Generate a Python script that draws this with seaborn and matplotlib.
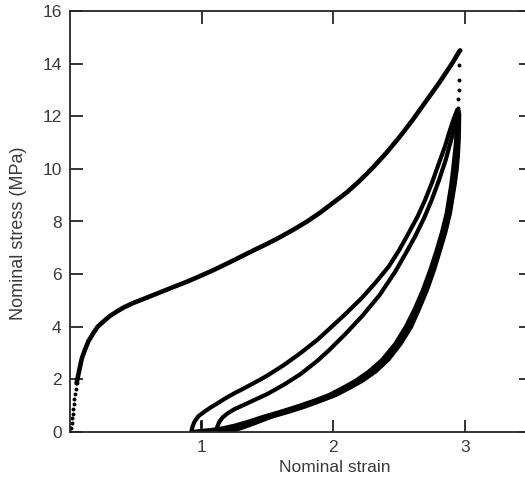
import matplotlib as mpl

mpl.use('Agg')
import pandas as pd
import matplotlib.pyplot as plt
import seaborn as sns

# first loading, solid part
load_x = [0.05, 0.055, 0.065, 0.076, 0.09, 0.113, 0.14, 0.176, 0.21, 0.252,
          0.3, 0.353, 0.41, 0.479, 0.58, 0.68, 0.78, 0.882, 0.98, 1.083,
          1.2, 1.3, 1.4, 1.5, 1.6, 1.7, 1.8, 1.9, 2.0, 2.1, 2.2, 2.3, 2.4,
          2.5, 2.6, 2.7, 2.8, 2.9, 2.96]
load_y = [1.85, 1.98, 2.22, 2.48, 2.8, 3.12, 3.45, 3.75, 4.0, 4.19,
          4.4, 4.57, 4.74, 4.9, 5.1, 5.3, 5.5, 5.7, 5.91, 6.14,
          6.42, 6.67, 6.92, 7.16, 7.42, 7.7, 8.0, 8.34, 8.72, 9.1, 9.55,
          10.05, 10.6, 11.2, 11.85, 12.55, 13.25, 14.0, 14.5]

# sparse points at the very start of loading
toe_x = [0.0, 0.007, 0.013, 0.017, 0.021, 0.024, 0.027, 0.031, 0.037, 0.043, 0.05]
toe_y = [0.0, 0.17, 0.34, 0.52, 0.7, 0.88, 1.06, 1.25, 1.45, 1.65, 1.85]

# sparse points where the stress drops at max strain
drop_x = [2.96, 2.955, 2.953, 2.95, 2.948, 2.945, 2.943, 2.94]
drop_y = [14.52, 13.95, 13.38, 13.0, 12.65, 12.32, 12.13, 11.98]

# unloading paths
unload1_x = [2.94, 2.937, 2.93, 2.92, 2.908, 2.895, 2.86, 2.825, 2.785, 2.735,
             2.68, 2.62, 2.55, 2.47, 2.37, 2.27, 2.17, 2.07, 1.97, 1.85,
             1.72, 1.6, 1.47, 1.36, 1.25, 1.16, 1.08, 1.0, 0.93]
unload1_y = [11.98, 11.5, 11.0, 10.5, 9.95, 9.4, 8.32, 7.6, 6.92, 6.15,
             5.4, 4.7, 4.0, 3.35, 2.74, 2.3, 1.95, 1.67, 1.41, 1.18,
             0.96, 0.77, 0.58, 0.4, 0.24, 0.14, 0.08, 0.04, 0.0]
unload2_x = [2.95, 2.949, 2.946, 2.94, 2.93, 2.915, 2.88, 2.845, 2.805, 2.758,
             2.705, 2.645, 2.58, 2.5, 2.405, 2.31, 2.21, 2.11, 2.01, 1.89,
             1.76, 1.64, 1.51, 1.39, 1.26, 1.19, 1.14, 1.11]
unload2_y = [12.2, 11.5, 11.0, 10.5, 9.95, 9.4, 8.32, 7.6, 6.92, 6.15,
             5.4, 4.7, 4.0, 3.35, 2.74, 2.3, 1.95, 1.67, 1.41, 1.18,
             0.96, 0.77, 0.58, 0.38, 0.18, 0.09, 0.03, 0.0]
unload3_x = [2.955, 2.953, 2.95, 2.945, 2.935, 2.92, 2.885, 2.85, 2.81, 2.763,
             2.71, 2.652, 2.59, 2.51, 2.415, 2.32, 2.22, 2.12, 2.02, 1.9,
             1.78, 1.66, 1.53, 1.41, 1.3, 1.23, 1.2]
unload3_y = [12.1, 11.5, 11.0, 10.5, 9.95, 9.4, 8.32, 7.6, 6.92, 6.15,
             5.4, 4.7, 4.0, 3.35, 2.74, 2.3, 1.95, 1.67, 1.41, 1.18,
             0.96, 0.77, 0.58, 0.35, 0.15, 0.05, 0.0]

# reloading paths
reload1_x = [0.92, 0.93, 0.945, 0.975, 1.02, 1.07, 1.12, 1.18, 1.247, 1.31,
             1.373, 1.44, 1.5, 1.625, 1.75, 1.877, 1.965, 2.09, 2.217, 2.32,
             2.42, 2.5, 2.57, 2.64, 2.696, 2.75, 2.80, 2.85, 2.88, 2.91, 2.94]
reload1_y = [0.0, 0.2, 0.39, 0.6, 0.77, 0.94, 1.09, 1.28, 1.47, 1.63,
             1.8, 1.98, 2.15, 2.55, 3.0, 3.5, 3.9, 4.48, 5.1, 5.68,
             6.29, 6.92, 7.55, 8.2, 8.82, 9.5, 10.2, 10.9, 11.4, 11.85, 12.25]
reload2_x = [1.11, 1.118, 1.134, 1.16, 1.197, 1.25, 1.32, 1.41, 1.5, 1.625,
             1.75, 1.877, 1.965, 2.09, 2.217, 2.35, 2.47, 2.55, 2.62, 2.69,
             2.746, 2.8, 2.85, 2.88, 2.91, 2.93, 2.95]
reload2_y = [0.0, 0.2, 0.39, 0.56, 0.71, 0.87, 1.03, 1.24, 1.45, 1.8,
             2.2, 2.7, 3.1, 3.72, 4.4, 5.2, 6.1, 6.8, 7.43, 8.15,
             8.82, 9.55, 10.3, 10.85, 11.4, 11.8, 12.2]

# little vertical foot inside the first reload loop
foot_x = [0.995, 0.995]
foot_y = [0.0, 0.42]

x_ticks = [1, 2, 3]
y_ticks = [0, 2, 4, 6, 8, 10, 12, 14, 16]

sns.set_style('ticks')
plt.rcParams['font.family'] = ['Liberation Sans', 'DejaVu Sans']

fig = plt.figure(figsize=(5.25, 4.86), dpi=100)
ax = fig.add_axes([70 / 525, 54 / 486, 461 / 525, 421 / 486])

paths = [(load_x, load_y, 3.3), (unload1_x, unload1_y, 3.0),
         (unload2_x, unload2_y, 3.0), (unload3_x, unload3_y, 3.0),
         (reload1_x, reload1_y, 3.0), (reload2_x, reload2_y, 3.0),
         (foot_x, foot_y, 1.2)]
for px, py, lw in paths:
    df = pd.DataFrame({'strain': px, 'stress': py})
    sns.lineplot(data=df, x='strain', y='stress', sort=False, estimator=None,
                 color='black', linewidth=lw, ax=ax,
                 solid_capstyle='round', solid_joinstyle='round')

dots = pd.DataFrame({'strain': toe_x + drop_x, 'stress': toe_y + drop_y})
sns.scatterplot(data=dots, x='strain', y='stress', color='black', s=8,
                linewidth=0, ax=ax)

ax.set_xlim(0, 3.5)
ax.set_ylim(0, 16)
ax.set_xticks(x_ticks)
ax.set_yticks(y_ticks)
ax.tick_params(direction='in', length=9, width=1.3, top=True, right=True,
               labelsize=12.5, labelcolor='#3a3a3a', pad=6)
for side in ['left', 'bottom', 'top', 'right']:
    ax.spines[side].set_linewidth(1.3)

ax.set_xlabel('Nominal strain', fontsize=12.5, color='#3a3a3a')
ax.set_ylabel('Nominal stress (MPa)', fontsize=13, color='#3a3a3a')
ax.xaxis.set_label_coords(0.575, -0.066)
ax.yaxis.set_label_coords(-0.093, 0.4715)

fig.savefig('out.png', dpi=100)
